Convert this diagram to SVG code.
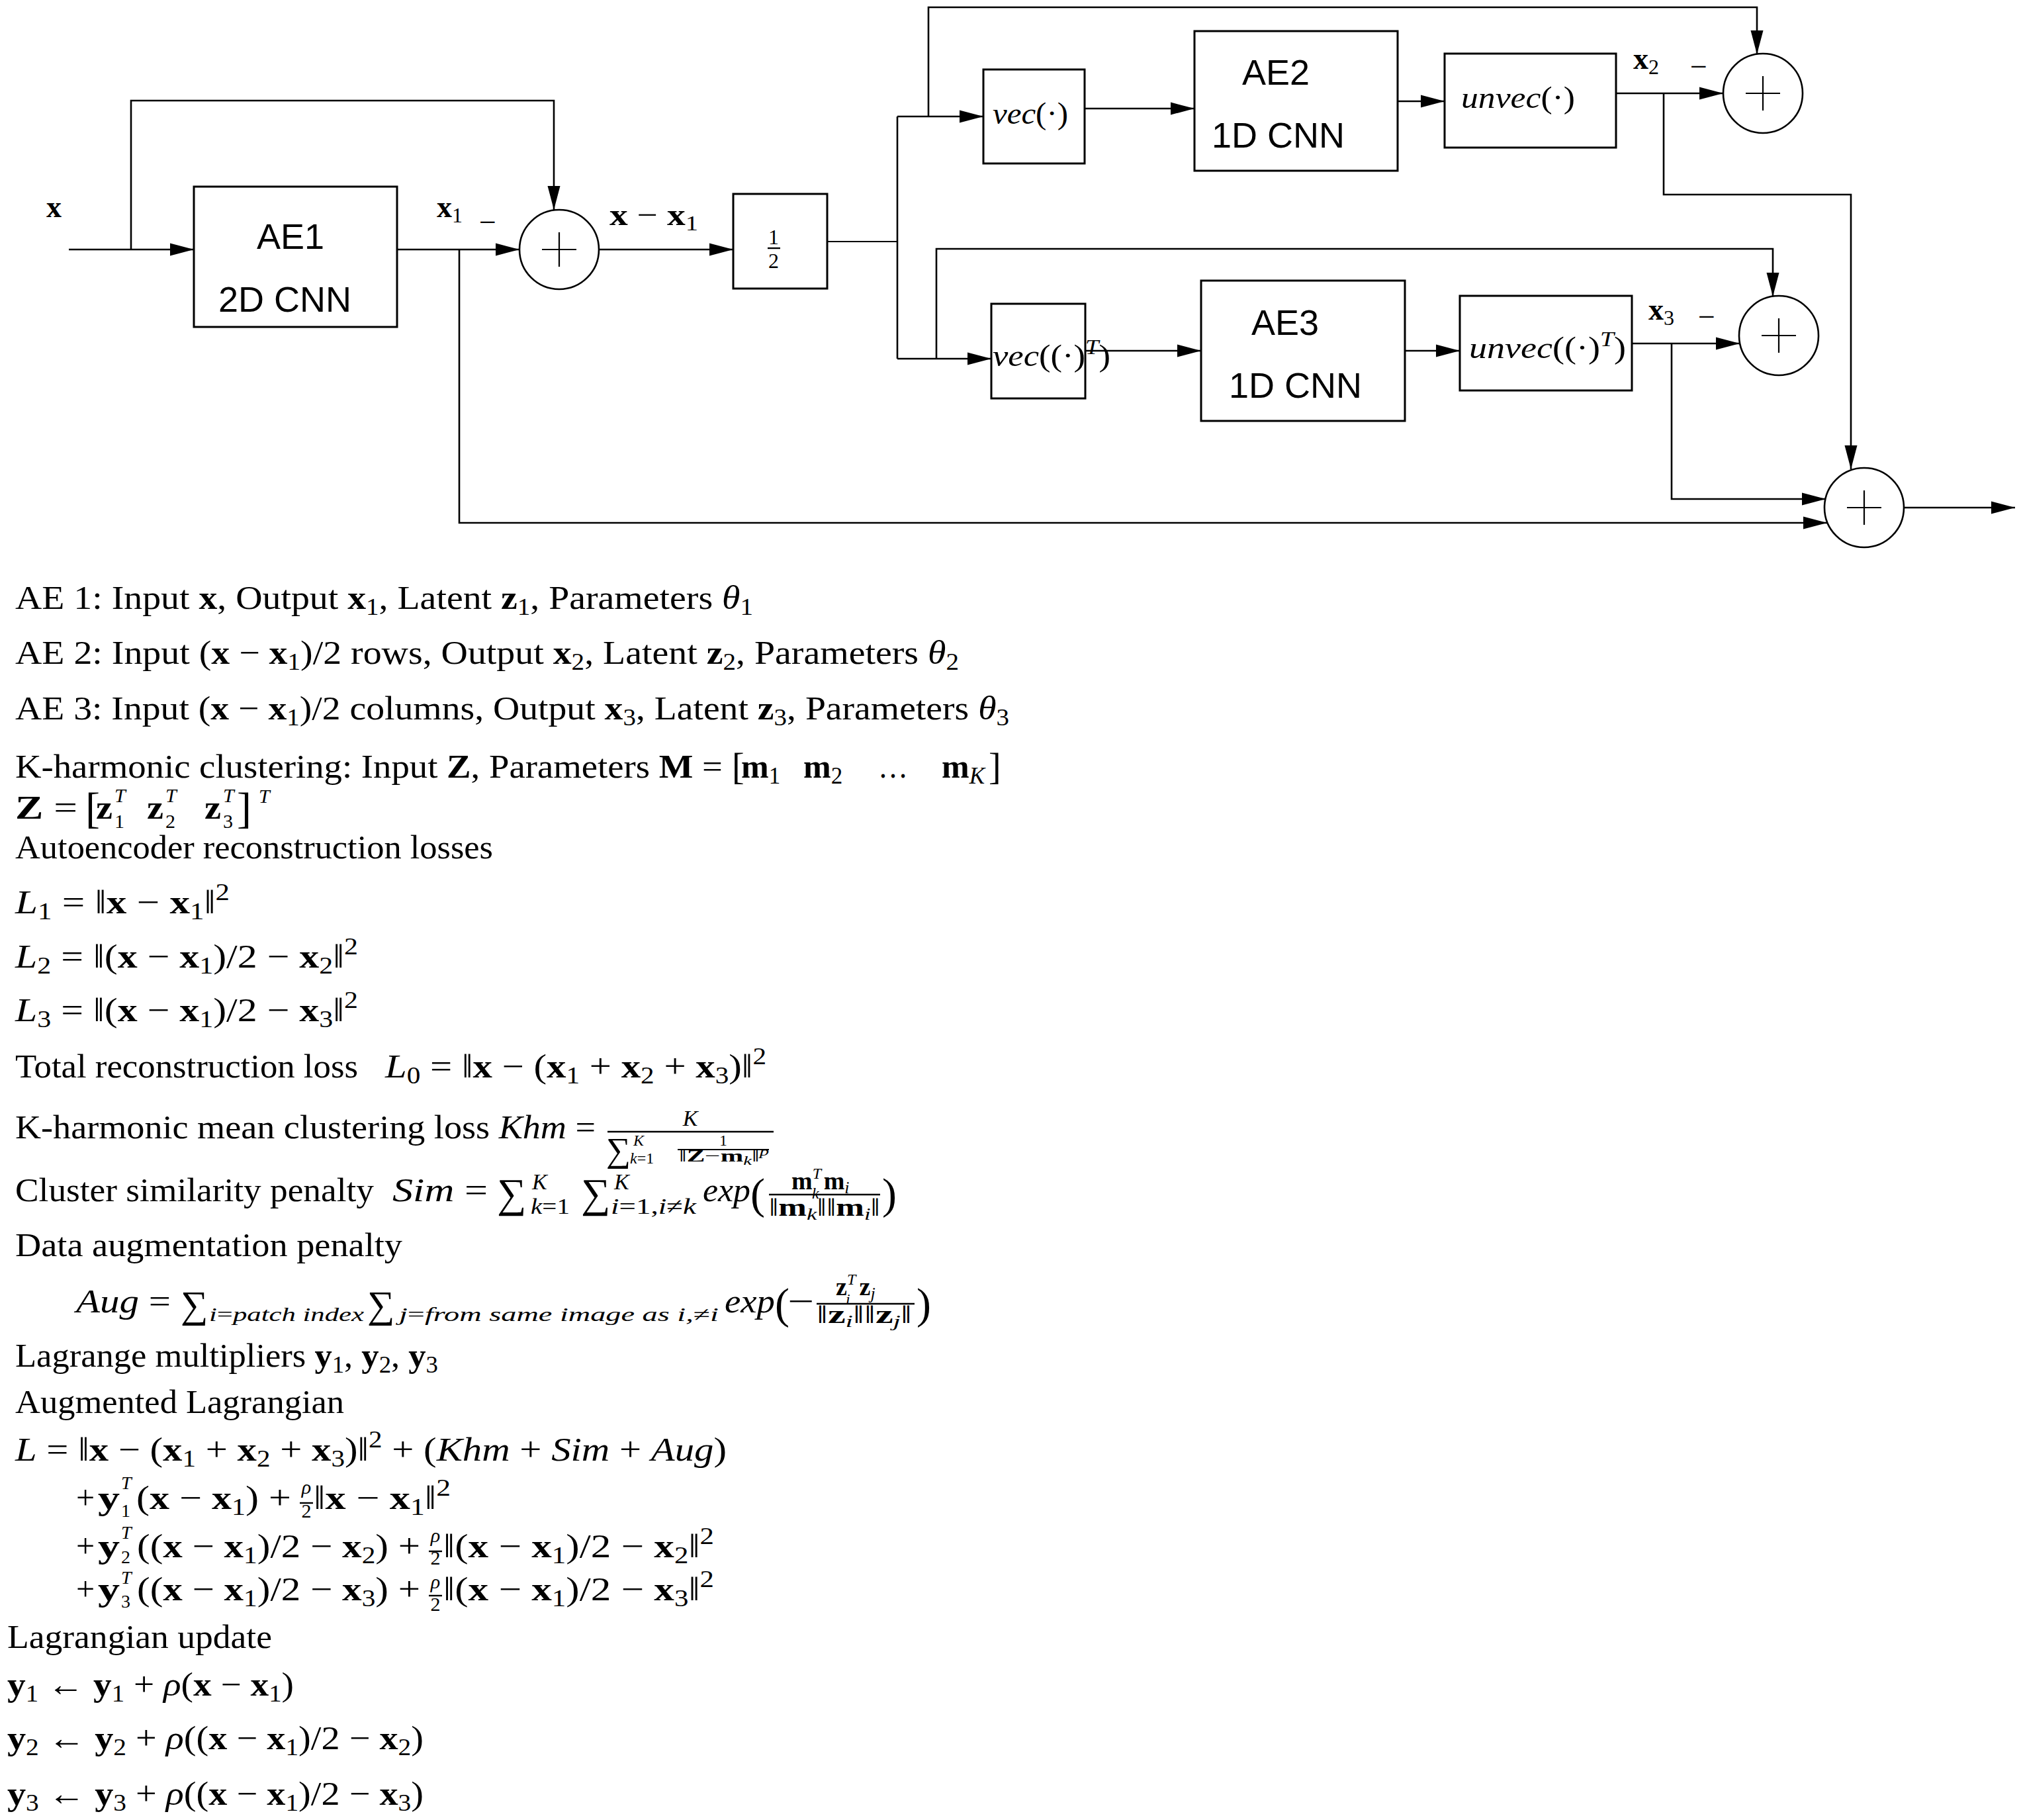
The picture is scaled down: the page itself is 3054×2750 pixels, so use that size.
<svg xmlns="http://www.w3.org/2000/svg" width="3054" height="2750" viewBox="0 0 3054 2750">
<defs>
<style>
.ln{fill:none;stroke:#000;stroke-width:2.6}
.thin{fill:none;stroke:#000;stroke-width:1.8}
.bx{fill:#fff;stroke:#000;stroke-width:3}
.ci{fill:#fff;stroke:#000;stroke-width:2.6}
.pl{stroke:#000;stroke-width:2.2}
.bar{stroke:#000;stroke-width:2.4}
.sans{font-family:"Liberation Sans",Arial,sans-serif;font-size:54px;fill:#000}
.m{font-family:"Liberation Serif","DejaVu Serif","Times New Roman",serif;font-size:50px;fill:#000}
.dm{font-family:"Liberation Serif","DejaVu Serif","Times New Roman",serif;font-size:46px;fill:#000}
.b{font-weight:bold}
.i{font-style:italic}
.s{font-size:35px}
.ss{font-size:32px}
.sc{font-size:30px}
.sd{font-size:28px}
</style>
<marker id="ah" markerUnits="userSpaceOnUse" markerWidth="37" markerHeight="20" refX="36" refY="10" orient="auto"><path d="M0,0.5 L36,10 L0,19.5 z" fill="#000"/></marker>
</defs>
<rect width="3054" height="2750" fill="#fff"/>

<g id="connectors">
<path class="ln" d="M104,377 H293" marker-end="url(#ah)"/>
<path class="ln" d="M198,377 V152 H837 V317" marker-end="url(#ah)"/>
<path class="ln" d="M600,377 H785" marker-end="url(#ah)"/>
<path class="ln" d="M694,377 V790 H2761" marker-end="url(#ah)"/>
<path class="ln" d="M905,377 H1108" marker-end="url(#ah)"/>
<path class="thin" d="M1250,365 H1356"/>
<path class="ln" d="M1356,176 V542"/>
<path class="ln" d="M1356,176 H1486" marker-end="url(#ah)"/>
<path class="ln" d="M1356,542 H1498" marker-end="url(#ah)"/>
<path class="ln" d="M1403,176 V11 H2655 V82" marker-end="url(#ah)"/>
<path class="ln" d="M1415,542 V376 H2679 V448" marker-end="url(#ah)"/>
<path class="ln" d="M1639,164 H1805" marker-end="url(#ah)"/>
<path class="ln" d="M2112,153 H2183" marker-end="url(#ah)"/>
<path class="ln" d="M2442,141 H2604" marker-end="url(#ah)"/>
<path class="ln" d="M2514,141 V294 H2797 V709" marker-end="url(#ah)"/>
<path class="ln" d="M1640,530 H1815" marker-end="url(#ah)"/>
<path class="ln" d="M2123,530 H2206" marker-end="url(#ah)"/>
<path class="ln" d="M2466,519 H2629" marker-end="url(#ah)"/>
<path class="ln" d="M2526,519 V754 H2759" marker-end="url(#ah)"/>
<path class="ln" d="M2877,767 H3045" marker-end="url(#ah)"/>
</g>

<g id="ae1"><rect class="bx" x="293" y="282" width="307" height="212"/><text class="sans" x="388" y="376">AE1</text><text class="sans" x="330" y="471">2D CNN</text></g>
<g id="ae2"><rect class="bx" x="1805" y="47" width="307" height="211"/><text class="sans" x="1877" y="128">AE2</text><text class="sans" x="1831" y="223">1D CNN</text></g>
<g id="ae3"><rect class="bx" x="1815" y="424" width="308" height="212"/><text class="sans" x="1891" y="506">AE3</text><text class="sans" x="1857" y="601">1D CNN</text></g>
<g id="half"><rect class="bx" x="1108" y="293" width="142" height="143"/><text class="dm" x="1169" y="369" text-anchor="middle" style="font-size:32px">1</text><line class="bar" x1="1160" y1="375" x2="1179" y2="375"/><text class="dm" x="1169" y="405" text-anchor="middle" style="font-size:32px">2</text></g>
<g id="vec"><rect class="bx" x="1486" y="105" width="153" height="142"/><text class="dm" x="1500" y="187" textLength="114" lengthAdjust="spacingAndGlyphs"><tspan class="i">vec</tspan>(·)</text></g>
<g id="unvec"><rect class="bx" x="2183" y="81" width="259" height="142"/><text class="dm" x="2208" y="163" textLength="172" lengthAdjust="spacingAndGlyphs"><tspan class="i">unvec</tspan>(·)</text></g>
<g id="vecT"><rect class="bx" x="1498" y="459" width="142" height="143"/><text class="dm" x="1500" y="553" textLength="178" lengthAdjust="spacingAndGlyphs"><tspan class="i">vec</tspan>((·)<tspan class="i ss" dy="-18">T</tspan><tspan dy="18">)</tspan></text></g>
<g id="unvecT"><rect class="bx" x="2206" y="447" width="260" height="143"/><text class="dm" x="2220" y="541" textLength="237" lengthAdjust="spacingAndGlyphs"><tspan class="i">unvec</tspan>((·)<tspan class="i ss" dy="-18">T</tspan><tspan dy="18">)</tspan></text></g>
<g id="sum1"><circle class="ci" cx="845" cy="377" r="60"/><path class="pl" d="M819,377 H871 M845,351 V403"/></g>
<g id="sum2"><circle class="ci" cx="2664" cy="141" r="60"/><path class="pl" d="M2638,141 H2690 M2664,115 V167"/></g>
<g id="sum3"><circle class="ci" cx="2688" cy="507" r="60"/><path class="pl" d="M2662,507 H2714 M2688,481 V533"/></g>
<g id="sum4"><circle class="ci" cx="2817" cy="767" r="60"/><path class="pl" d="M2791,767 H2843 M2817,741 V793"/></g>

<g id="labels">
<text class="dm b" x="70" y="328">x</text>
<text class="dm" x="660" y="328"><tspan class="b">x</tspan><tspan class="ss" dy="8">1</tspan></text>
<text class="dm" x="724" y="351">−</text>
<text class="dm" x="921" y="340" textLength="134" lengthAdjust="spacingAndGlyphs"><tspan class="b">x</tspan> − <tspan class="b">x</tspan><tspan class="ss" dy="8">1</tspan></text>
<text class="dm" x="2468" y="104"><tspan class="b">x</tspan><tspan class="ss" dy="8">2</tspan></text>
<text class="dm" x="2554" y="116">−</text>
<text class="dm" x="2491" y="483"><tspan class="b">x</tspan><tspan class="ss" dy="8">3</tspan></text>
<text class="dm" x="2566" y="494">−</text>
</g>

<g id="equations">
<text class="m" x="23" y="920" textLength="1115" lengthAdjust="spacingAndGlyphs">AE 1: Input <tspan class="b">x</tspan>, Output <tspan class="b">x</tspan><tspan class="s" dy="9">1</tspan><tspan dy="-9">, Latent </tspan><tspan class="b">z</tspan><tspan class="s" dy="9">1</tspan><tspan dy="-9">, Parameters </tspan><tspan class="i">θ</tspan><tspan class="s" dy="9">1</tspan></text>
<text class="m" x="23" y="1003" textLength="1426" lengthAdjust="spacingAndGlyphs">AE 2: Input (<tspan class="b">x</tspan> − <tspan class="b">x</tspan><tspan class="s" dy="9">1</tspan><tspan dy="-9">)/2 rows, Output </tspan><tspan class="b">x</tspan><tspan class="s" dy="9">2</tspan><tspan dy="-9">, Latent </tspan><tspan class="b">z</tspan><tspan class="s" dy="9">2</tspan><tspan dy="-9">, Parameters </tspan><tspan class="i">θ</tspan><tspan class="s" dy="9">2</tspan></text>
<text class="m" x="23" y="1087" textLength="1502" lengthAdjust="spacingAndGlyphs">AE 3: Input (<tspan class="b">x</tspan> − <tspan class="b">x</tspan><tspan class="s" dy="9">1</tspan><tspan dy="-9">)/2 columns, Output </tspan><tspan class="b">x</tspan><tspan class="s" dy="9">3</tspan><tspan dy="-9">, Latent </tspan><tspan class="b">z</tspan><tspan class="s" dy="9">3</tspan><tspan dy="-9">, Parameters </tspan><tspan class="i">θ</tspan><tspan class="s" dy="9">3</tspan></text>

<text class="m" x="23" y="1175" textLength="1069" lengthAdjust="spacingAndGlyphs">K-harmonic clustering: Input <tspan class="b">Z</tspan>, Parameters <tspan class="b">M</tspan> =</text>
<text class="m" x="1106" y="1177" style="font-size:56px">[</text>
<text class="m" x="1120" y="1175"><tspan class="b">m</tspan><tspan class="s" dy="9">1</tspan></text>
<text class="m" x="1214" y="1175"><tspan class="b">m</tspan><tspan class="s" dy="9">2</tspan></text>
<text class="m" x="1327" y="1175" textLength="45" lengthAdjust="spacingAndGlyphs">…</text>
<text class="m" x="1423" y="1175"><tspan class="b">m</tspan><tspan class="s i" dy="9">K</tspan></text>
<text class="m" x="1494" y="1177" style="font-size:56px">]</text>

<text class="m" x="23" y="1237" textLength="94" lengthAdjust="spacingAndGlyphs"><tspan class="b">Z</tspan> =</text>
<text class="m" x="129" y="1243" style="font-size:66px">[</text>
<text class="m b" x="145" y="1237" textLength="25" lengthAdjust="spacingAndGlyphs">z</text><text class="m i sc" x="173" y="1212">T</text><text class="m sc" x="173" y="1251">1</text>
<text class="m b" x="222" y="1237" textLength="25" lengthAdjust="spacingAndGlyphs">z</text><text class="m i sc" x="250" y="1212">T</text><text class="m sc" x="250" y="1251">2</text>
<text class="m b" x="309" y="1237" textLength="25" lengthAdjust="spacingAndGlyphs">z</text><text class="m i sc" x="337" y="1212">T</text><text class="m sc" x="337" y="1251">3</text>
<text class="m" x="358" y="1243" style="font-size:66px">]</text>
<text class="m i sc" x="391" y="1213">T</text>

<text class="m" x="23" y="1297" textLength="722" lengthAdjust="spacingAndGlyphs">Autoencoder reconstruction losses</text>
<text class="m" x="23" y="1380" textLength="324" lengthAdjust="spacingAndGlyphs"><tspan class="i">L</tspan><tspan class="s" dy="9">1</tspan><tspan dy="-9"> = ‖</tspan><tspan class="b">x</tspan> − <tspan class="b">x</tspan><tspan class="s" dy="9">1</tspan><tspan dy="-9">‖</tspan><tspan class="s" dy="-20">2</tspan></text>
<text class="m" x="23" y="1462" textLength="518" lengthAdjust="spacingAndGlyphs"><tspan class="i">L</tspan><tspan class="s" dy="9">2</tspan><tspan dy="-9"> = ‖(</tspan><tspan class="b">x</tspan> − <tspan class="b">x</tspan><tspan class="s" dy="9">1</tspan><tspan dy="-9">)/2 − </tspan><tspan class="b">x</tspan><tspan class="s" dy="9">2</tspan><tspan dy="-9">‖</tspan><tspan class="s" dy="-20">2</tspan></text>
<text class="m" x="23" y="1543" textLength="518" lengthAdjust="spacingAndGlyphs"><tspan class="i">L</tspan><tspan class="s" dy="9">3</tspan><tspan dy="-9"> = ‖(</tspan><tspan class="b">x</tspan> − <tspan class="b">x</tspan><tspan class="s" dy="9">1</tspan><tspan dy="-9">)/2 − </tspan><tspan class="b">x</tspan><tspan class="s" dy="9">3</tspan><tspan dy="-9">‖</tspan><tspan class="s" dy="-20">2</tspan></text>
<text class="m" x="23" y="1628" textLength="518" lengthAdjust="spacingAndGlyphs">Total reconstruction loss</text>
<text class="m" x="582" y="1628" textLength="576" lengthAdjust="spacingAndGlyphs"><tspan class="i">L</tspan><tspan class="s" dy="9">0</tspan><tspan dy="-9"> = ‖</tspan><tspan class="b">x</tspan> − (<tspan class="b">x</tspan><tspan class="s" dy="9">1</tspan><tspan dy="-9"> + </tspan><tspan class="b">x</tspan><tspan class="s" dy="9">2</tspan><tspan dy="-9"> + </tspan><tspan class="b">x</tspan><tspan class="s" dy="9">3</tspan><tspan dy="-9">)‖</tspan><tspan class="s" dy="-20">2</tspan></text>

<text class="m" x="23" y="1720" textLength="877" lengthAdjust="spacingAndGlyphs">K-harmonic mean clustering loss <tspan class="i">Khm</tspan> =</text>
<line class="bar" x1="918" y1="1710" x2="1169" y2="1710"/>
<text class="m i" x="1043" y="1701" text-anchor="middle" style="font-size:34px">K</text>
<text class="m" x="916" y="1755" style="font-size:52px">∑</text>
<text class="m i" x="957" y="1731" style="font-size:24px">K</text>
<text class="m" x="952" y="1758" style="font-size:24px"><tspan class="i">k</tspan>=1</text>
<line class="bar" x1="1024" y1="1737" x2="1162" y2="1737" style="stroke-width:1.8"/>
<text class="m" x="1093" y="1731" text-anchor="middle" style="font-size:24px">1</text>
<text class="m" x="1026" y="1755" style="font-size:26px" textLength="136" lengthAdjust="spacingAndGlyphs">‖<tspan class="b">Z</tspan>−<tspan class="b">m</tspan><tspan class="i" dy="5" style="font-size:18px">k</tspan><tspan dy="-5">‖</tspan><tspan class="i" dy="-9" style="font-size:18px">p</tspan></text>

<text class="m" x="23" y="1815" textLength="542" lengthAdjust="spacingAndGlyphs">Cluster similarity penalty</text>
<text class="m" x="593" y="1815" textLength="144" lengthAdjust="spacingAndGlyphs"><tspan class="i">Sim</tspan> =</text>
<text class="m" x="751" y="1824" style="font-size:62px">∑</text>
<text class="m i" x="804" y="1797" style="font-size:34px">K</text>
<text class="m" x="802" y="1834" style="font-size:34px" textLength="59" lengthAdjust="spacingAndGlyphs"><tspan class="i">k</tspan>=1</text>
<text class="m" x="878" y="1824" style="font-size:62px">∑</text>
<text class="m i" x="928" y="1797" style="font-size:34px">K</text>
<text class="m" x="923" y="1834" style="font-size:34px" textLength="129" lengthAdjust="spacingAndGlyphs"><tspan class="i">i</tspan>=1,<tspan class="i">i</tspan>≠<tspan class="i">k</tspan></text>
<text class="m i" x="1062" y="1815" textLength="72" lengthAdjust="spacingAndGlyphs">exp</text>
<text class="m" x="1134" y="1826" style="font-size:66px">(</text>
<line class="bar" x1="1162" y1="1805" x2="1330" y2="1805"/>
<text class="m" x="1196" y="1797" style="font-size:38px"><tspan class="b">m</tspan><tspan class="i" dy="-16" style="font-size:24px">T</tspan><tspan class="i" dx="-14" dy="30" style="font-size:24px">k</tspan><tspan class="b" dx="7" dy="-14">m</tspan><tspan class="i" dy="6" style="font-size:26px">i</tspan></text>
<text class="m" x="1162" y="1837" style="font-size:38px" textLength="168" lengthAdjust="spacingAndGlyphs">‖<tspan class="b">m</tspan><tspan class="i" dy="6" style="font-size:26px">k</tspan><tspan dy="-6">‖‖</tspan><tspan class="b">m</tspan><tspan class="i" dy="6" style="font-size:26px">i</tspan><tspan dy="-6">‖</tspan></text>
<text class="m" x="1333" y="1826" style="font-size:66px">)</text>

<text class="m" x="23" y="1898" textLength="585" lengthAdjust="spacingAndGlyphs">Data augmentation penalty</text>
<text class="m" x="115" y="1983" textLength="143" lengthAdjust="spacingAndGlyphs"><tspan class="i">Aug</tspan> =</text>
<text class="m" x="273" y="1991" style="font-size:58px">∑</text>
<text class="m i" x="316" y="1996" style="font-size:30px" textLength="234" lengthAdjust="spacingAndGlyphs">i<tspan style="font-style:normal">=</tspan>patch index</text>
<text class="m" x="555" y="1991" style="font-size:58px">∑</text>
<text class="m i" x="603" y="1996" style="font-size:30px" textLength="483" lengthAdjust="spacingAndGlyphs">j<tspan style="font-style:normal">=</tspan>from same image as i,<tspan style="font-style:normal">≠</tspan>i</text>
<text class="m i" x="1095" y="1983" textLength="76" lengthAdjust="spacingAndGlyphs">exp</text>
<text class="m" x="1171" y="1992" style="font-size:66px">(</text>
<text class="m" x="1190" y="1983" textLength="40" lengthAdjust="spacingAndGlyphs">−</text>
<line class="bar" x1="1234" y1="1970" x2="1382" y2="1970"/>
<text class="m" x="1263" y="1957" style="font-size:38px"><tspan class="b">z</tspan><tspan class="i" dy="-16" style="font-size:24px">T</tspan><tspan class="i" dx="-14" dy="30" style="font-size:24px">i</tspan><tspan class="b" dx="14" dy="-14">z</tspan><tspan class="i" dy="6" style="font-size:26px">j</tspan></text>
<text class="m" x="1234" y="1999" style="font-size:38px" textLength="144" lengthAdjust="spacingAndGlyphs">‖<tspan class="b">z</tspan><tspan class="i" dy="6" style="font-size:26px">i</tspan><tspan dy="-6">‖‖</tspan><tspan class="b">z</tspan><tspan class="i" dy="6" style="font-size:26px">j</tspan><tspan dy="-6">‖</tspan></text>
<text class="m" x="1385" y="1992" style="font-size:66px">)</text>

<text class="m" x="23" y="2065" textLength="639" lengthAdjust="spacingAndGlyphs">Lagrange multipliers <tspan class="b">y</tspan><tspan class="s" dy="9">1</tspan><tspan dy="-9">, </tspan><tspan class="b">y</tspan><tspan class="s" dy="9">2</tspan><tspan dy="-9">, </tspan><tspan class="b">y</tspan><tspan class="s" dy="9">3</tspan></text>
<text class="m" x="23" y="2135" textLength="497" lengthAdjust="spacingAndGlyphs">Augmented Lagrangian</text>
<text class="m" x="23" y="2207" textLength="1075" lengthAdjust="spacingAndGlyphs"><tspan class="i">L</tspan> = ‖<tspan class="b">x</tspan> − (<tspan class="b">x</tspan><tspan class="s" dy="9">1</tspan><tspan dy="-9"> + </tspan><tspan class="b">x</tspan><tspan class="s" dy="9">2</tspan><tspan dy="-9"> + </tspan><tspan class="b">x</tspan><tspan class="s" dy="9">3</tspan><tspan dy="-9">)‖</tspan><tspan class="s" dy="-20">2</tspan><tspan dy="20"> + (</tspan><tspan class="i">Khm</tspan> + <tspan class="i">Sim</tspan> + <tspan class="i">Aug</tspan>)</text>

<text class="m" x="115" y="2280">+</text><text class="m b" x="148" y="2280" textLength="33" lengthAdjust="spacingAndGlyphs">y</text><text class="m i sd" x="183" y="2250">T</text><text class="m sd" x="183" y="2292">1</text>
<text class="m" x="206" y="2280" textLength="234" lengthAdjust="spacingAndGlyphs">(<tspan class="b">x</tspan> − <tspan class="b">x</tspan><tspan class="s" dy="9">1</tspan><tspan dy="-9">) +</tspan></text>
<text class="m i" x="463" y="2257" text-anchor="middle" style="font-size:30px">ρ</text><line class="bar" x1="453" y1="2271" x2="473" y2="2271"/><text class="m" x="463" y="2293" text-anchor="middle" style="font-size:30px">2</text>
<text class="m" x="474" y="2280" textLength="207" lengthAdjust="spacingAndGlyphs">‖<tspan class="b">x</tspan> − <tspan class="b">x</tspan><tspan class="s" dy="9">1</tspan><tspan dy="-9">‖</tspan><tspan class="s" dy="-20">2</tspan></text>

<text class="m" x="115" y="2353">+</text><text class="m b" x="148" y="2353" textLength="33" lengthAdjust="spacingAndGlyphs">y</text><text class="m i sd" x="183" y="2325">T</text><text class="m sd" x="183" y="2362">2</text>
<text class="m" x="207" y="2353" textLength="428" lengthAdjust="spacingAndGlyphs">((<tspan class="b">x</tspan> − <tspan class="b">x</tspan><tspan class="s" dy="9">1</tspan><tspan dy="-9">)/2 − </tspan><tspan class="b">x</tspan><tspan class="s" dy="9">2</tspan><tspan dy="-9">) +</tspan></text>
<text class="m i" x="658" y="2330" text-anchor="middle" style="font-size:30px">ρ</text><line class="bar" x1="648" y1="2344" x2="668" y2="2344"/><text class="m" x="658" y="2364" text-anchor="middle" style="font-size:30px">2</text>
<text class="m" x="670" y="2353" textLength="409" lengthAdjust="spacingAndGlyphs">‖(<tspan class="b">x</tspan> − <tspan class="b">x</tspan><tspan class="s" dy="9">1</tspan><tspan dy="-9">)/2 − </tspan><tspan class="b">x</tspan><tspan class="s" dy="9">2</tspan><tspan dy="-9">‖</tspan><tspan class="s" dy="-20">2</tspan></text>

<text class="m" x="115" y="2418">+</text><text class="m b" x="148" y="2418" textLength="33" lengthAdjust="spacingAndGlyphs">y</text><text class="m i sd" x="183" y="2393">T</text><text class="m sd" x="183" y="2429">3</text>
<text class="m" x="207" y="2418" textLength="428" lengthAdjust="spacingAndGlyphs">((<tspan class="b">x</tspan> − <tspan class="b">x</tspan><tspan class="s" dy="9">1</tspan><tspan dy="-9">)/2 − </tspan><tspan class="b">x</tspan><tspan class="s" dy="9">3</tspan><tspan dy="-9">) +</tspan></text>
<text class="m i" x="658" y="2400" text-anchor="middle" style="font-size:30px">ρ</text><line class="bar" x1="648" y1="2411" x2="668" y2="2411"/><text class="m" x="658" y="2434" text-anchor="middle" style="font-size:30px">2</text>
<text class="m" x="670" y="2418" textLength="409" lengthAdjust="spacingAndGlyphs">‖(<tspan class="b">x</tspan> − <tspan class="b">x</tspan><tspan class="s" dy="9">1</tspan><tspan dy="-9">)/2 − </tspan><tspan class="b">x</tspan><tspan class="s" dy="9">3</tspan><tspan dy="-9">‖</tspan><tspan class="s" dy="-20">2</tspan></text>

<text class="m" x="11" y="2490" textLength="400" lengthAdjust="spacingAndGlyphs">Lagrangian update</text>
<text class="m" x="11" y="2562" textLength="433" lengthAdjust="spacingAndGlyphs"><tspan class="b">y</tspan><tspan class="s" dy="9">1</tspan><tspan dy="-9"> ← </tspan><tspan class="b">y</tspan><tspan class="s" dy="9">1</tspan><tspan dy="-9"> + </tspan><tspan class="i">ρ</tspan>(<tspan class="b">x</tspan> − <tspan class="b">x</tspan><tspan class="s" dy="9">1</tspan><tspan dy="-9">)</tspan></text>
<text class="m" x="11" y="2643" textLength="629" lengthAdjust="spacingAndGlyphs"><tspan class="b">y</tspan><tspan class="s" dy="9">2</tspan><tspan dy="-9"> ← </tspan><tspan class="b">y</tspan><tspan class="s" dy="9">2</tspan><tspan dy="-9"> + </tspan><tspan class="i">ρ</tspan>((<tspan class="b">x</tspan> − <tspan class="b">x</tspan><tspan class="s" dy="9">1</tspan><tspan dy="-9">)/2 − </tspan><tspan class="b">x</tspan><tspan class="s" dy="9">2</tspan><tspan dy="-9">)</tspan></text>
<text class="m" x="11" y="2727" textLength="629" lengthAdjust="spacingAndGlyphs"><tspan class="b">y</tspan><tspan class="s" dy="9">3</tspan><tspan dy="-9"> ← </tspan><tspan class="b">y</tspan><tspan class="s" dy="9">3</tspan><tspan dy="-9"> + </tspan><tspan class="i">ρ</tspan>((<tspan class="b">x</tspan> − <tspan class="b">x</tspan><tspan class="s" dy="9">1</tspan><tspan dy="-9">)/2 − </tspan><tspan class="b">x</tspan><tspan class="s" dy="9">3</tspan><tspan dy="-9">)</tspan></text>
</g>
</svg>
